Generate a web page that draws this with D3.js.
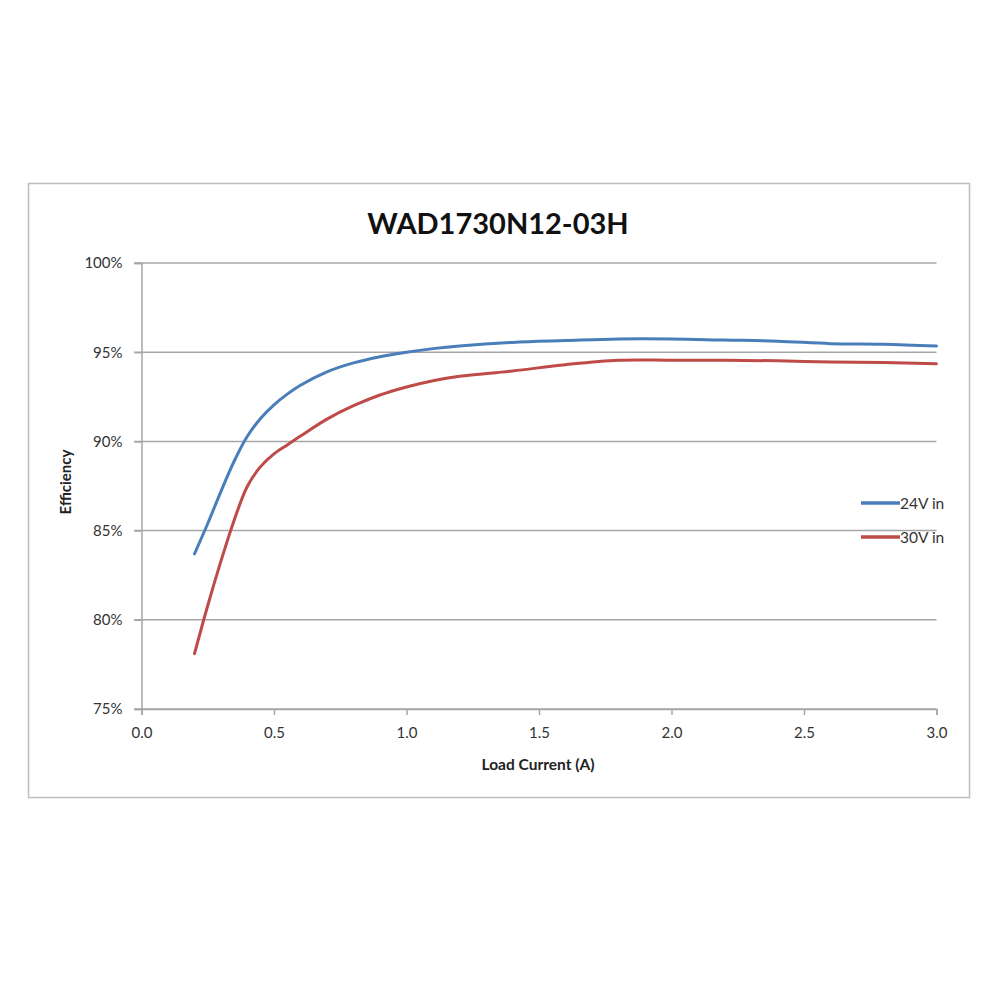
<!DOCTYPE html>
<html><head><meta charset="utf-8">
<script src="https://cdn.jsdelivr.net/npm/d3@7"></script>
<style>body{margin:0;background:#fff}svg{display:block}text{font-family:Lato,"Open Sans",sans-serif}</style>
</head><body>
<svg id="c" width="1000" height="1000"></svg>
<script>
const title = "WAD1730N12-03H";
const xLabel = "Load Current (A)";
const yLabel = "Efficiency";
const seriesNames = ["24V in", "30V in"];
const seriesColors = ["#4a7ebb", "#be4b48"];
const loadCurrent = [0.2,0.25,0.3,0.35,0.4,0.45,0.5,0.55,0.6,0.7,0.8,0.9,1.0,1.1,1.2,1.4,1.6,1.8,2.0,2.2,2.4,2.6,2.8,3.0];
const eff24 = [83.7,85.4,87.2,88.9,90.3,91.3,92.05,92.65,93.15,93.9,94.4,94.75,95.0,95.2,95.35,95.55,95.65,95.74,95.74,95.68,95.62,95.48,95.45,95.35];
const eff30 = [78.1,80.8,83.3,85.6,87.5,88.6,89.3,89.8,90.3,91.25,92.0,92.6,93.05,93.4,93.65,93.95,94.3,94.55,94.55,94.55,94.52,94.45,94.42,94.35];
const xTicks = [0,0.5,1.0,1.5,2.0,2.5,3.0];
const yTicks = [75,80,85,90,95,100];

const svg = d3.select("#c");
svg.append("rect").attr("x",28.5).attr("y",183.5).attr("width",941).attr("height",614)
  .attr("fill","#fff").attr("stroke","#bdbdbd").attr("stroke-width",1.5);

const x = d3.scaleLinear().domain([0,3]).range([141.5,936.5]);
const y = d3.scaleLinear().domain([75,100]).range([709,263]);

svg.append("text").attr("x",498).attr("y",234).attr("text-anchor","middle")
  .attr("font-size",29).attr("font-weight","bold").attr("fill","#111").text(title);

// gridlines
svg.append("g").selectAll("line").data(yTicks).join("line")
  .attr("x1",134).attr("x2",x(3)).attr("y1",d=>y(d)).attr("y2",d=>y(d))
  .attr("stroke","#a6a6a6").attr("stroke-width",1.5);

const yAxis = svg.append("g").attr("transform",`translate(${x(0)},0)`)
  .call(d3.axisLeft(y).tickValues(yTicks).tickFormat(d=>d+"%").tickSize(7).tickPadding(12));
yAxis.select(".domain").attr("stroke","#a6a6a6").attr("stroke-width",1.5);
yAxis.selectAll(".tick line").attr("stroke","#a6a6a6").attr("stroke-width",1.5);
yAxis.selectAll("text").attr("font-size",15).attr("fill","#333").style("font-family","Lato, sans-serif");

const xAxis = svg.append("g").attr("transform",`translate(0,${y(75)})`)
  .call(d3.axisBottom(x).tickValues(xTicks).tickFormat(d3.format(".1f")).tickSize(6).tickPadding(12));
xAxis.select(".domain").attr("stroke","#a6a6a6").attr("stroke-width",1.5);
xAxis.selectAll(".tick line").attr("stroke","#a6a6a6").attr("stroke-width",1.5);
xAxis.selectAll("text").attr("font-size",15).attr("fill","#333").style("font-family","Lato, sans-serif");

svg.append("text").attr("x",538).attr("y",770).attr("text-anchor","middle")
  .attr("font-size",15.5).attr("font-weight","bold").attr("fill","#222").text(xLabel);
svg.append("text").attr("transform","translate(71,482) rotate(-90)").attr("text-anchor","middle")
  .attr("font-size",15).attr("font-weight","bold").attr("fill","#222").text(yLabel);

const line = d3.line().x(d=>x(d[0])).y(d=>y(d[1])).curve(d3.curveCatmullRom.alpha(0.5));
[eff24, eff30].forEach((s,i)=>{
  svg.append("path").datum(loadCurrent.map((c,j)=>[c,s[j]]))
    .attr("d",line).attr("fill","none").attr("stroke",seriesColors[i])
    .attr("stroke-width",3).attr("stroke-linecap","round");
});

const leg = svg.append("g");
seriesNames.forEach((n,i)=>{
  const ly = 503 + i*34;
  leg.append("line").attr("x1",861).attr("x2",900).attr("y1",ly).attr("y2",ly)
    .attr("stroke",seriesColors[i]).attr("stroke-width",3.5);
  leg.append("text").attr("x",900).attr("y",ly+5.5).attr("font-size",15.5).attr("fill","#333").text(n);
});
</script>
</body></html>
